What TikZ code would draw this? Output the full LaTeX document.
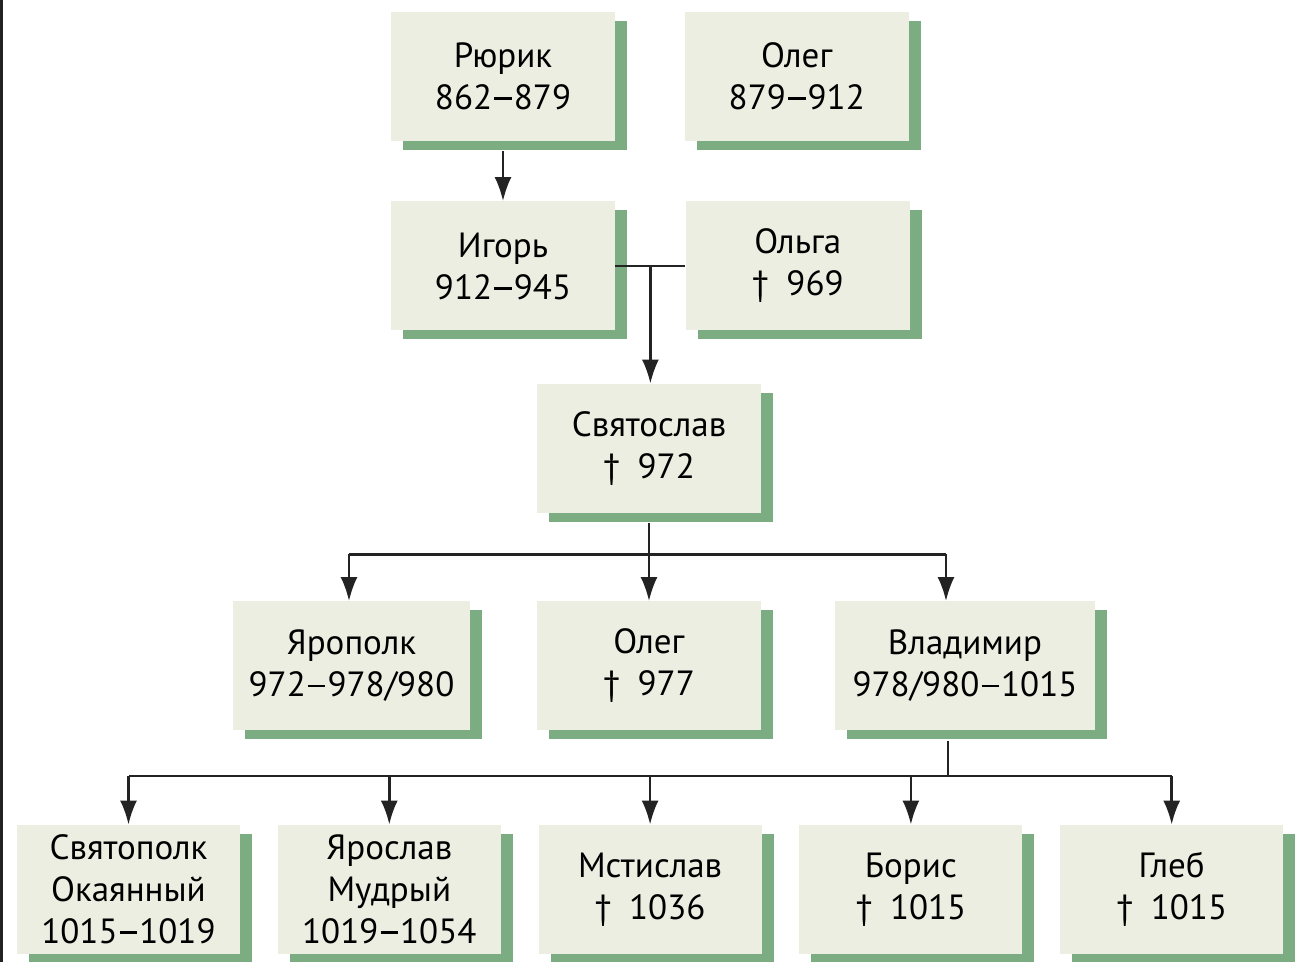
\documentclass[tikz,border=0pt]{standalone}
\usepackage{fontspec}
\setmainfont{PT Sans}
\usetikzlibrary{positioning,shadows,arrows.meta,calc}
\definecolor{boxfill}{RGB}{237,238,226}
\definecolor{shadowgreen}{RGB}{124,172,129}
\definecolor{linegray}{RGB}{35,35,35}
\tikzstyle{box}=[fill=boxfill,minimum width=112pt,minimum height=64.5pt,inner sep=0pt,
  general shadow={fill=shadowgreen,shadow xshift=6pt,shadow yshift=-4.5pt}]
\tikzstyle{line}=[draw=linegray,line width=1.3pt]
\tikzstyle{link}=[line,-{Latex[length=12pt,width=8.5pt]}]
\newcommand{\ruler}[3]{\node[box,#3] (#1) {#2};}
\newcommand{\yrdash}{\kern0.06em\rule[0.27em]{0.5em}{0.08em}\kern0.06em}
\tikzset{
	node distance = 18.5pt and 18.5pt
}

\begin{document}
\begin{tikzpicture}[x=0.5pt,y=-0.5pt,align=center,font=\fontsize{17.5}{21}\selectfont]
    \useasboundingbox (0,0) rectangle (1303,962);
    \fill[linegray] (0,0) rectangle (3,962);

    \ruler{rurik}{Рюрик\\862\yrdash879}{at={(503,76.5)}}
    \ruler{oleg}{Олег\\879\yrdash912}{right=34.5pt of rurik}

    \ruler{igor}{Игорь\\912\yrdash945}{at={(503,266)}}
    \ruler{olga}{Ольга\\†\enspace969}{right=35pt of igor}

    \ruler{svyat}{Святослав\\†\enspace972}{at={(649,448.5)}}

    \ruler{yaropolk}{Ярополк\\972\yrdash978/980}{at={(351.5,666)},minimum width=118.5pt}
    \ruler{olegii}{Олег\\†\enspace977}{at={(649,666)}}
    \ruler{vlad}{Владимир\\978/980\yrdash1015}{at={(965,666)},minimum width=130pt}

    \ruler{svyatopolk}{Святополк\\Окаянный\\1015\yrdash1019}{at={(128.5,889.5)},minimum width=111.5pt}
    \ruler{yaroslav}{Ярослав\\Мудрый\\1019\yrdash1054}{right=of svyatopolk,minimum width=111.5pt}
    \ruler{mstislav}{Мстислав\\†\enspace1036}{right=of yaroslav,minimum width=111.5pt}
    \ruler{boris}{Борис\\†\enspace1015}{right=of mstislav,minimum width=111.5pt}
    \ruler{gleb}{Глеб\\†\enspace1015}{right=of boris,minimum width=111.5pt}

    % Rurik -> Igor, Igor + Olga -> Svyatoslav
    \draw[link,shorten <=5pt] (rurik) -- (igor);
    \draw[line] (igor.east) -- (olga.west);
    \coordinate (wed) at ($(igor.east)!0.5!(olga.west)$);
    \draw[link] (wed) -- (wed |- svyat.north);

    % sons of Svyatoslav
    \coordinate (busa) at ([yshift=-20.5pt]svyat.south);
    \draw[line,shorten <=5pt] (svyat.south) -- (busa);
    \draw[line] ([xshift=-1.25pt]yaropolk.north |- busa) -- ([xshift=-9.5pt]vlad.north |- busa);
    \draw[link] ([xshift=-1.25pt]yaropolk.north |- busa) -- ([xshift=-1.25pt]yaropolk.north);
    \draw[link] (olegii.north |- busa) -- (olegii.north);
    \draw[link] ([xshift=-9.5pt]vlad.north |- busa) -- ([xshift=-9.5pt]vlad.north);

    % sons of Vladimir
    \coordinate (busb) at ([xshift=-8.5pt,yshift=-22.5pt]vlad.south);
    \draw[line,shorten <=5pt] ([xshift=-8.5pt]vlad.south) -- (busb);
    \draw[line] (svyatopolk.north |- busb) -- (gleb.north |- busb);
    \draw[link] (svyatopolk.north |- busb) -- (svyatopolk.north);
    \draw[link] (yaroslav.north |- busb) -- (yaroslav.north);
    \draw[link] (mstislav.north |- busb) -- (mstislav.north);
    \draw[link] (boris.north |- busb) -- (boris.north);
    \draw[link] (gleb.north |- busb) -- (gleb.north);
\end{tikzpicture}
\end{document}
